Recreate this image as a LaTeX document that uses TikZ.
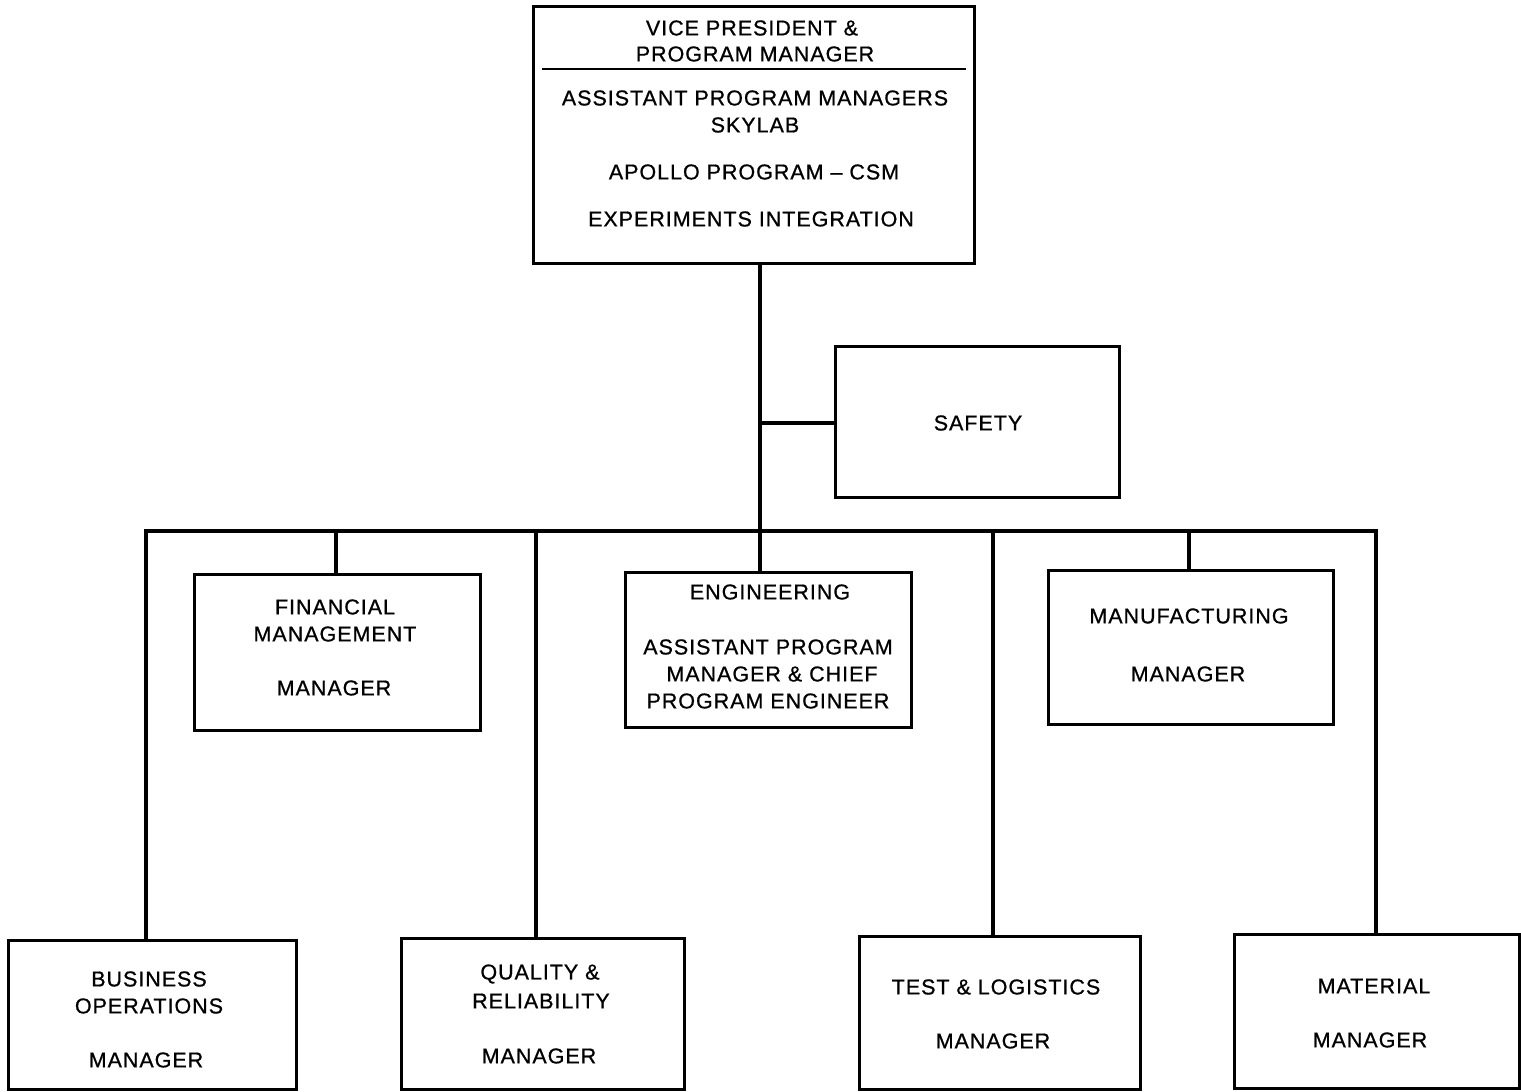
\documentclass[tikz,border=0pt]{standalone}
\usepackage{fontspec}
\setmainfont{Liberation Sans}[LetterSpace=4.5, FakeBold=0.8]
\begin{document}
\begin{tikzpicture}[x=1pt,y=-1pt,
  box/.style={draw, line width=3pt, inner sep=0pt},
  conn/.style={line width=3.8pt},
  lbl/.style={font=\fontsize{21.5}{24}\selectfont, inner sep=0pt, anchor=center}]
\useasboundingbox (0,0) rectangle (1521,1092);

% boxes
\node[box, minimum width=441, minimum height=257] (vp) at (753.5,134.5) {};
\node[box, minimum width=284, minimum height=151] (safety) at (977,421.5) {};
\node[box, minimum width=286, minimum height=156] (fin) at (337,652) {};
\node[box, minimum width=286, minimum height=155] (eng) at (768,649.5) {};
\node[box, minimum width=285, minimum height=154] (mfg) at (1190.5,647) {};
\node[box, minimum width=288, minimum height=149] (bus) at (152,1014.5) {};
\node[box, minimum width=283, minimum height=151] (qual) at (542.5,1013.5) {};
\node[box, minimum width=281, minimum height=153] (test) at (999.5,1012.5) {};
\node[box, minimum width=285, minimum height=154] (mat) at (1376.5,1011) {};

% rule inside the top box
\draw[line width=2.4pt] ([xshift=10pt]vp.west |- 0,69) coordinate (ruleL) -- ([xshift=-10pt]vp.east |- 0,69) coordinate (ruleR);

% labels
\node[lbl] (vp1) at (752,28) {VICE PRESIDENT \&};
\node[lbl] (vp2) at (755,54) {PROGRAM MANAGER};
\node[lbl] (vp3) at (755,98) {ASSISTANT PROGRAM MANAGERS};
\node[lbl] (vp4) at (755,125) {SKYLAB};
\node[lbl] (vp5) at (754,172) {APOLLO PROGRAM -- CSM};
\node[lbl] (vp6) at (751,219) {EXPERIMENTS INTEGRATION};

\node[lbl] (sf1) at (978,423) {SAFETY};

\node[lbl] (fn1) at (335,607) {FINANCIAL};
\node[lbl] (fn2) at (335,634) {MANAGEMENT};
\node[lbl] (fn3) at (334,688) {MANAGER};

\node[lbl] (en1) at (770,592) {ENGINEERING};
\node[lbl] (en2) at (768,647) {ASSISTANT PROGRAM};
\node[lbl] (en3) at (772,674) {MANAGER \& CHIEF};
\node[lbl] (en4) at (768,701) {PROGRAM ENGINEER};

\node[lbl] (mf1) at (1189,616) {MANUFACTURING};
\node[lbl] (mf2) at (1188,674) {MANAGER};

\node[lbl] (bs1) at (149,979) {BUSINESS};
\node[lbl] (bs2) at (149,1006) {OPERATIONS};
\node[lbl] (bs3) at (146,1060) {MANAGER};

\node[lbl] (ql1) at (540,974) {QUALITY \&};
\node[lbl] (ql2) at (541,1001) {RELIABILITY};
\node[lbl] (ql3) at (539,1056) {MANAGER};

\node[lbl] (ts1) at (996,987) {TEST \& LOGISTICS};
\node[lbl] (ts2) at (993,1041) {MANAGER};

\node[lbl] (mt1) at (1374,986) {MATERIAL};
\node[lbl] (mt2) at (1370,1040) {MANAGER};

% connectors
\coordinate (trunk) at (760,531);
\coordinate (busL) at (146,531);
\coordinate (busR) at (1376,531);
\coordinate (safeJ) at (760,423);
\coordinate (finJ) at (336,531);
\coordinate (qualJ) at (536,531);
\coordinate (testJ) at (993,531);
\coordinate (mfgJ) at (1189,531);

\draw[conn] (trunk |- vp.south) -- (trunk);
\draw[conn] (safeJ) -- (safeJ -| safety.west);
\draw[conn, line cap=rect] (busL) -- (busR);
\draw[conn] (busL) -- (busL |- bus.north);
\draw[conn] (finJ) -- (finJ |- fin.north);
\draw[conn] (qualJ) -- (qualJ |- qual.north);
\draw[conn] (trunk) -- (trunk |- eng.north);
\draw[conn] (testJ) -- (testJ |- test.north);
\draw[conn] (mfgJ) -- (mfgJ |- mfg.north);
\draw[conn] (busR) -- (busR |- mat.north);
\end{tikzpicture}
\end{document}
